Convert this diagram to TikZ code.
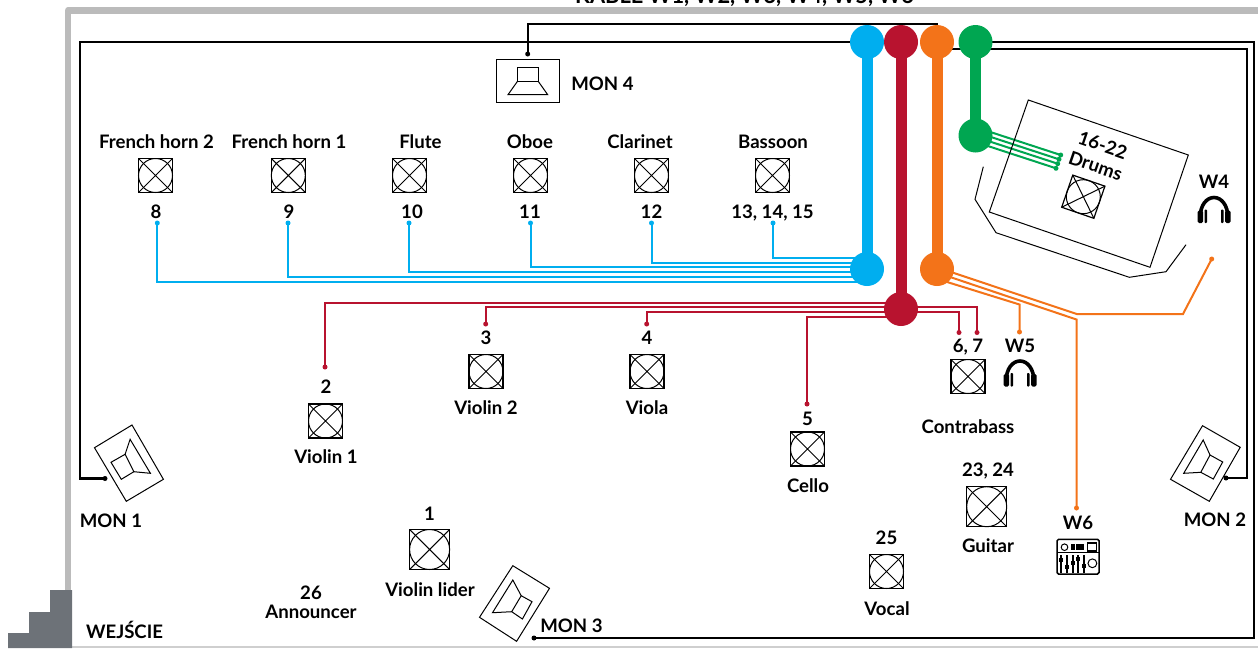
\documentclass[tikz,border=0pt]{standalone}
\usepackage{fontspec}
\setmainfont{Lato}
\usetikzlibrary{backgrounds}
\definecolor{cblue}{HTML}{00AEEF}
\definecolor{cred}{HTML}{B8132F}
\definecolor{corange}{HTML}{F37319}
\definecolor{cgreen}{HTML}{00A651}
\definecolor{cwall}{HTML}{BBBBBB}
\definecolor{cstairs}{HTML}{6D7278}
\tikzset{
  lbl/.style={font=\fontsize{18.6}{20}\selectfont\bfseries, inner sep=0pt, anchor=base, text=black, yshift=-2.2pt},
  hub/.style={circle, fill=#1, draw=none, minimum size=34pt, inner sep=0pt},
  trunk/.style={line width=11pt, draw=#1},
  cable/.style={line width=2pt, draw=#1, line join=miter},
  enddot/.style={circle, fill=#1, draw=none, minimum size=5pt, inner sep=0pt},
  blackline/.style={line width=2.2pt, draw=black, line join=miter},
  icon/.style={line width=1pt, draw=black, line join=miter},
  standbox/.style={draw=black, line width=1.2pt, rectangle, inner sep=0pt, outer sep=0pt}
}
\newcommand{\standicon}[5]{%
  \node[standbox, minimum size=#4pt, rotate=#5] (#1) at (#2,#3) {};
  \draw[icon] (#1.north west) -- (#1.south east) (#1.north east) -- (#1.south west);
  \draw[icon] (#1.center) circle[radius=#4/2*1pt];
}
\newcommand{\phonesicon}[2]{%
  \begin{scope}[shift={(#1,#2)}]
    \draw[line width=3.6pt, black] (-14,9) .. controls (-14,-19) and (14,-19) .. (14,9);
    \fill[black, rounded corners=1.5pt] (-16.5,13.5) rectangle (-11,1);
    \fill[black, rounded corners=0.8pt] (-9.5,13.5) rectangle (-7,0);
    \fill[black, rounded corners=1.5pt] (16.5,13.5) rectangle (11,1);
    \fill[black, rounded corners=0.8pt] (9.5,13.5) rectangle (7,0);
  \end{scope}
}
\begin{document}
\begin{tikzpicture}[x=1pt,y=-1pt]
\useasboundingbox (0,0) rectangle (1258,648);
\clip (0,0) rectangle (1258,648);
% walls
\draw[cwall, line width=6.5pt, line join=round] (68,592) -- (68,10.5) -- (1258,10.5);
\draw[cwall!70, line width=1.3pt] (71,647) -- (1258,647);
\fill[cstairs] (72,590) -- (50,590) -- (50,612) -- (29,612) -- (29,633) -- (8,633) -- (8,648) -- (72,648) -- cycle;

% hubs
\node[hub=cblue] (bT) at (867,42) {};
\node[hub=cblue] (bB) at (867,269) {};
\node[hub=cred] (rT) at (901,42) {};
\node[hub=cred] (rB) at (901,309) {};
\node[hub=corange] (oT) at (937,42) {};
\node[hub=corange] (oB) at (937,269) {};
\node[hub=cgreen] (gT) at (975.5,42) {};
\node[hub=cgreen] (gB) at (975.5,135.5) {};

% end dots
\foreach \n/\x in {d8/157.3,d9/288,d10/409,d11/530.5,d12/651.5,d13/773}
  \node[enddot=cblue] (\n) at (\x,223) {};
\node[enddot=cred] (d2) at (325,367) {};
\node[enddot=cred] (d3) at (485.7,324) {};
\node[enddot=cred] (d4) at (646.7,324) {};
\node[enddot=cred] (d5) at (807,404) {};
\node[enddot=cred] (d6) at (959,332.5) {};
\node[enddot=cred] (d7) at (977,332.5) {};
\node[enddot=corange] (dW4) at (1211.7,259) {};
\node[enddot=corange] (dW5) at (1019.5,332) {};
\node[enddot=corange] (dW6) at (1076.5,508) {};
\node[enddot=cgreen] (g1) at (1060.7,155) {};
\node[enddot=cgreen] (g2) at (1059,159.3) {};
\node[enddot=cgreen] (g3) at (1057.7,163.7) {};
\node[enddot=cgreen] (g4) at (1056,168.3) {};
\node[enddot=black] (m1) at (105,478.5) {};
\node[enddot=black] (m2) at (1226,478) {};
\node[enddot=black] (m3) at (534,638) {};
\node[enddot=black] (m4) at (527.7,54) {};

% named free coordinates
\coordinate (b8) at (867,282);
\coordinate (b9) at (867,277);
\coordinate (b10) at (867,272.3);
\coordinate (b11) at (867,267);
\coordinate (b12) at (867,262.7);
\coordinate (b13) at (867,257.7);
\coordinate (r2) at (901,302.5);
\coordinate (r3) at (901,307);
\coordinate (r4) at (901,311.7);
\coordinate (r5) at (901,316.7);
\coordinate (r6) at (901,311.7);
\coordinate (r7) at (901,306.7);
\coordinate (oa) at (953,272.7);
\coordinate (oaK) at (1076.7,314);
\coordinate (oaL) at (1183,314);
\coordinate (ob) at (950,277);
\coordinate (obK) at (1076.5,319.5);
\coordinate (oc) at (948,282.3);
\coordinate (ocK) at (1019.5,304.5);
\coordinate (g1s) at (975,127);
\coordinate (g2s) at (975,131.8);
\coordinate (g3s) at (975,136.7);
\coordinate (g4s) at (975,141.8);
\coordinate (topK) at (527.7,24);
\coordinate (leftK) at (80,478.5);
\coordinate (botK) at (1254,638);
\coordinate (innerS) at (937,49);
\coordinate (innerK) at (1247,478);

\begin{pgfonlayer}{background}
  % black cables
  \draw[blackline] (m4.center) -- (topK) -| (oT.center);
  \draw[blackline] (bT.center) -| (leftK) -- (m1.center);
  \draw[blackline] (gT.center) -| (botK) -- (m3.center);
  \draw[blackline] (innerS) -| (innerK) -- (m2.center);
  % trunks
  \draw[trunk=cblue] (bT.center) -- (bB.center);
  \draw[trunk=cred] (rT.center) -- (rB.center);
  \draw[trunk=corange] (oT.center) -- (oB.center);
  \draw[trunk=cgreen] (gT.center) -- (gB.center);
  % blue
  \foreach \n in {8,9,10,11,12,13} \draw[cable=cblue] (d\n.center) |- (b\n);
  % red
  \foreach \n in {2,3,4,5,6,7} \draw[cable=cred] (d\n.center) |- (r\n);
  % orange
  \draw[cable=corange] (oB.center) -- (oa) -- (oaK) -- (oaL) -- (dW4.center);
  \draw[cable=corange] (oB.center) -- (ob) -- (obK) -- (dW6.center);
  \draw[cable=corange] (oB.center) -- (oc) -- (ocK) -- (dW5.center);
  % green
  \foreach \n in {1,2,3,4} \draw[cable=cgreen] (g\n s) -- (g\n.center);
\end{pgfonlayer}

% drums area
\draw[icon] (1028.3,100) -- (1188.3,155) -- (1150,267.3) -- (989.3,212) -- cycle;
\draw[icon] (983.3,166.7) -- (975,199.3) -- (996,232.7) -- (1129.3,277.3) -- (1166,271.7) -- (1186,244.7);
\standicon{s16}{1083.3}{196.7}{34}{-19}
\node[lbl, anchor=center, rotate=-19, yshift=2.2pt] (t16) at (1102,145) {16-22};
\node[lbl, anchor=center, rotate=-19, yshift=2.2pt] (tdr) at (1095,165.7) {Drums};

% stands
\standicon{s8}{155.5}{175.5}{34}{0}
\standicon{s9}{288.3}{175.5}{34}{0}
\standicon{s10}{409.5}{175.5}{34}{0}
\standicon{s11}{530.5}{175.5}{34}{0}
\standicon{s12}{651.5}{175.5}{34}{0}
\standicon{s13}{772.5}{175.5}{34}{0}
\standicon{s2}{325.5}{421}{34}{0}
\standicon{s3}{486}{371.5}{34}{0}
\standicon{s4}{647}{371.5}{34}{0}
\standicon{s5}{807.5}{449}{34}{0}
\standicon{s6}{968}{376.5}{34}{0}
\standicon{s23}{986.7}{506.7}{40}{0}
\standicon{s25}{886.5}{571.5}{34}{0}
\standicon{s1}{429.6}{549.5}{40}{0}

% speakers
\draw[icon] (132,425) -- (163.4,479.3) -- (126.3,501.3) -- (94.5,447.7) -- cycle;
\draw[icon] (111,462.3) -- (125.1,454.3) -- (133.9,471.7) -- (121.3,479.3) -- cycle;
\draw[icon] (125.1,454.3) -- (130.1,439.3) -- (150.4,473.3) -- (133.9,471.7);
\draw[icon] (1202.5,425.7) -- (1240.2,447.3) -- (1209.3,501.3) -- (1170.5,479.3) -- cycle;
\draw[icon] (1210,455) -- (1222.7,462) -- (1213.3,479) -- (1200.8,472.3) -- cycle;
\draw[icon] (1210,455) -- (1203.2,440) -- (1183.7,473.3) -- (1200.8,472.3);
\draw[icon] (512.8,565.7) -- (549.5,588.3) -- (516.6,641.3) -- (479.5,617.3) -- cycle;
\draw[icon] (521.2,595.7) -- (532,601.7) -- (522.4,619) -- (511.7,611.7) -- cycle;
\draw[icon] (521.2,595.7) -- (512.8,580) -- (492.5,612.7) -- (511.7,611.7);
\draw[icon] (496.3,59.3) rectangle (559.3,102.7);
\draw[icon] (517.7,67) rectangle (538,81);
\draw[icon] (517.7,81) -- (508,94.7) -- (547.7,94.7) -- (538,81);

% headphones
\phonesicon{1214}{209.5}
\phonesicon{1020}{373}

% mixer
\draw[black, line width=1.5pt, rounded corners=1.5pt] (1057,539.3) rectangle (1099,574);
\draw[black, line width=1.5pt] (1057,552.7) -- (1099,552.7);
\draw[black, line width=1pt] (1064.5,547.2) circle[radius=3.3pt];
\draw[black, line width=1.1pt] (1087.4,543) rectangle (1096.5,551);
\foreach \x in {1071,1075.7,1080.4} \foreach \y in {543.6,547.4} \fill[black] (\x,\y) rectangle ++(4,3);
\foreach \x/\k in {1061/560,1067/567,1073/563,1078/559,1084/566} {
  \draw[black, line width=1.3pt] (\x,555) -- (\x,572.5);
  \fill[black] (\x-2.2,\k-2.2) rectangle (\x+2.2,\k+2.2);
}
\draw[black, line width=1pt] (1092.4,563.3) circle[radius=4.4pt];

% labels
\node[lbl] (l1) at (156.5,146) {French horn 2};
\node[lbl] (l2) at (289,146) {French horn 1};
\node[lbl] (l3) at (420.5,146) {Flute};
\node[lbl] (l4) at (530,146) {Oboe};
\node[lbl] (l5) at (640,146) {Clarinet};
\node[lbl] (l6) at (773,146) {Bassoon};
\node[lbl] (n8) at (156,216) {8};
\node[lbl] (n9) at (289,216) {9};
\node[lbl] (n10) at (412,216) {10};
\node[lbl] (n11) at (530,216) {11};
\node[lbl] (n12) at (651.5,216) {12};
\node[lbl] (n13) at (772.5,216) {13, 14, 15};
\node[lbl] (n2) at (326,391.5) {2};
\node[lbl] (n3) at (486,342.5) {3};
\node[lbl] (n4) at (647,342.5) {4};
\node[lbl] (n5) at (807.5,423.5) {5};
\node[lbl] (n6) at (968,350.5) {6, 7};
\node[lbl] (nW5) at (1020,350.5) {W5};
\node[lbl] (nW4) at (1214,186) {W4};
\node[lbl] (nW6) at (1078,527.5) {W6};
\node[lbl] (v1) at (326,461.5) {Violin 1};
\node[lbl] (v2) at (486,412.5) {Violin 2};
\node[lbl] (v3) at (647,412.5) {Viola};
\node[lbl] (v4) at (808,490.5) {Cello};
\node[lbl] (v5) at (968,431.5) {Contrabass};
\node[lbl] (n23) at (988,474.5) {23, 24};
\node[lbl] (v6) at (988,550.5) {Guitar};
\node[lbl] (n25) at (886.5,542.5) {25};
\node[lbl] (v7) at (887,613.5) {Vocal};
\node[lbl] (n1) at (429.5,518.5) {1};
\node[lbl] (v8) at (430,594.5) {Violin lider};
\node[lbl] (n26) at (311,597) {26};
\node[lbl] (v9) at (311,616.5) {Announcer};
\node[lbl] (wej) at (124.5,636.5) {WEJŚCIE};
\node[lbl] (mon1) at (111,525.5) {MON 1};
\node[lbl] (mon2) at (1215,524.5) {MON 2};
\node[lbl] (mon3) at (571.5,630.5) {MON 3};
\node[lbl] (mon4) at (602.5,88.5) {MON 4};
\node[lbl, font=\fontsize{21.8}{24}\selectfont\bfseries] (kable) at (744.5,1.3) {KABLE W1, W2, W3, W4, W5, W6};
\end{tikzpicture}
\end{document}
